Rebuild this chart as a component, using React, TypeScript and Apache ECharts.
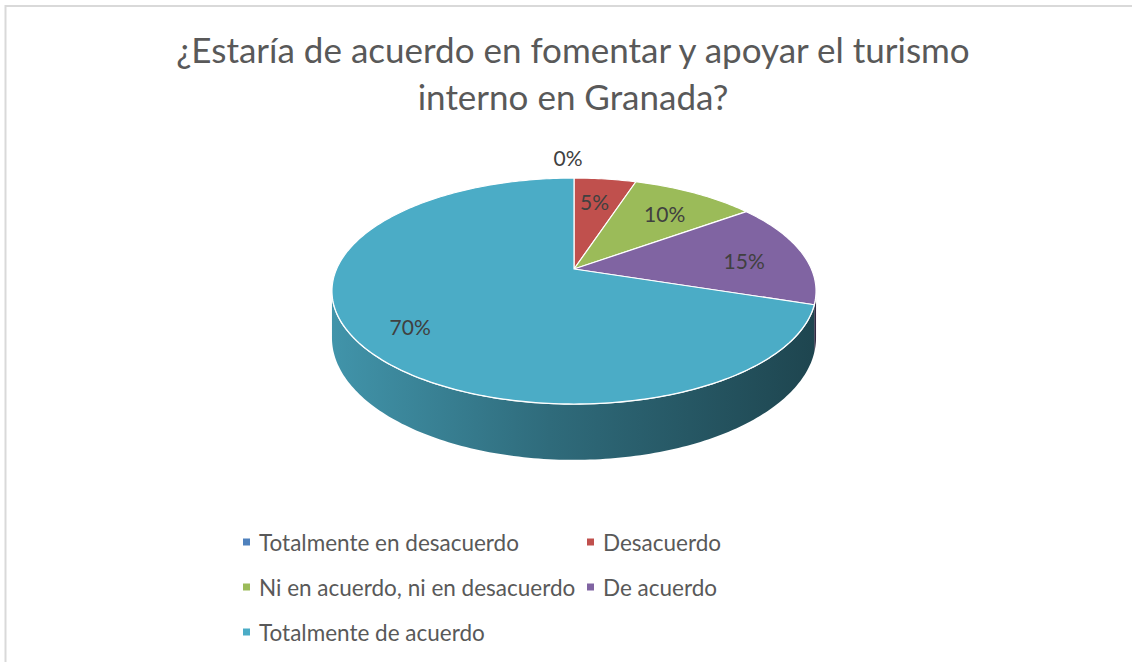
import React, { useEffect, useRef } from 'react';
import * as echarts from 'echarts';

const CATEGORIES = [
  'Totalmente en desacuerdo',
  'Desacuerdo',
  'Ni en acuerdo, ni en desacuerdo',
  'De acuerdo',
  'Totalmente de acuerdo',
];
const VALUES = [0, 5, 10, 15, 70];
const COLORS = ['#4F81BD', '#C0504D', '#9BBB59', '#8064A2', '#4BACC6'];
const TITLE_LINES = ['¿Estaría de acuerdo en fomentar y apoyar el turismo', 'interno en Granada?'];

const FONT = 'Lato, "Open Sans", sans-serif';

// 3D pie geometry (perspective projection of a tilted disc)
const CX = 574;
const CY = 269;
const RX = 237.4;
const RY = 108.7;
const K = 0.1947;
const DEPTH = 45;
const LABEL_R = 0.76;

function proj(f: number, t: number) {
  const u = f * Math.sin(t);
  const v = -f * Math.cos(t);
  const w = 1 - K * v;
  return { x: CX + (RX * u) / w, y: CY + (RY * v) / w, w };
}

function shade(hex: string, f: number) {
  const n = parseInt(hex.slice(1), 16);
  const r = Math.round(((n >> 16) & 255) * f);
  const g = Math.round(((n >> 8) & 255) * f);
  const b = Math.round((n & 255) * f);
  return `rgb(${r},${g},${b})`;
}

export default function App() {
  const ref = useRef<HTMLDivElement>(null);
  useEffect(() => {
    if (!ref.current) return;
    const chart = echarts.init(ref.current, null, { renderer: 'svg' });
    const total = VALUES.reduce((a, b) => a + b, 0);

    const renderItem = (params: any, api: any) => {
      const i = params.seriesIndex;
      const val = api.value(0) as number;
      const color = COLORS[i];
      const before = VALUES.slice(0, i).reduce((a, b) => a + b, 0);
      const start = (before / total) * Math.PI * 2;
      const end = start + (val / total) * Math.PI * 2;
      const children: any[] = [];
      if (end > start) {
        const n = Math.max(2, Math.ceil((end - start) / (Math.PI / 180)));
        const pts: number[][] = [[CX, CY]];
        for (let j = 0; j <= n; j++) {
          const p = proj(1, start + ((end - start) * j) / n);
          pts.push([p.x, p.y]);
        }
        children.push({
          type: 'polygon',
          z2: 10,
          shape: { points: pts },
          style: { fill: color, stroke: '#ffffff', lineWidth: 1.2, lineJoin: 'round' },
        });
        const vis0 = Math.acos(-K);
        const vis1 = Math.PI * 2 - vis0;
        const a = Math.max(start, vis0);
        const b = Math.min(end, vis1);
        if (b > a) {
          const m = Math.max(2, Math.ceil((b - a) / (Math.PI / 180)));
          const topPts: number[][] = [];
          const botPts: number[][] = [];
          for (let j = 0; j <= m; j++) {
            const p = proj(1, a + ((b - a) * j) / m);
            topPts.push([p.x, p.y]);
            botPts.push([p.x, p.y + DEPTH / p.w]);
          }
          children.push({
            type: 'polygon',
            z2: 1,
            shape: { points: topPts.concat(botPts.reverse()) },
            style: {
              fill: {
                type: 'linear',
                x: CX - RX * 1.02,
                y: 0,
                x2: CX + RX * 1.02,
                y2: 0,
                global: true,
                colorStops: [
                  { offset: 0, color: shade(color, 0.86) },
                  { offset: 0.45, color: shade(color, 0.62) },
                  { offset: 1, color: shade(color, 0.4) },
                ],
              },
              stroke: null,
            },
          });
          children.push({
            type: 'polyline',
            z2: 5,
            shape: { points: topPts },
            style: { fill: null, stroke: '#ffffff', lineWidth: 1.5 },
          });
        }
      }
      const mid = (start + end) / 2;
      const pct = Math.round((val / total) * 100) + '%';
      let lx: number;
      let ly: number;
      if (val === 0) {
        const p = proj(1, mid);
        lx = p.x - 6;
        ly = p.y - 21;
      } else {
        const p = proj(LABEL_R, mid);
        lx = p.x - 4;
        ly = p.y + 4;
      }
      children.push({
        type: 'text',
        z2: 20,
        style: {
          text: pct,
          x: lx,
          y: ly,
          fill: '#404040',
          fontSize: 21,
          fontFamily: FONT,
          align: 'center',
          verticalAlign: 'middle',
        },
      });
      return { type: 'group', children };
    };

    const legendBase = {
      orient: 'vertical',
      icon: 'rect',
      itemWidth: 7,
      itemHeight: 7,
      itemGap: 19,
      padding: 0,
      selectedMode: false,
      textStyle: { fontSize: 22.5, color: '#595959', fontFamily: FONT, lineHeight: 26, padding: [0, 0, 0, 4] },
    };

    chart.setOption({
      animation: false,
      backgroundColor: '#ffffff',
      title: {
        text: TITLE_LINES.join('\n'),
        left: 573,
        textAlign: 'center',
        top: 25,
        padding: 0,
        textStyle: { fontSize: 35, fontWeight: 'normal', color: '#595959', fontFamily: FONT, lineHeight: 47 },
      },
      legend: [
        { ...legendBase, data: [CATEGORIES[0], CATEGORIES[2], CATEGORIES[4]], left: 243, top: 529 },
        { ...legendBase, data: [CATEGORIES[1], CATEGORIES[3]], left: 587, top: 529 },
      ],
      graphic: [
        {
          type: 'rect',
          shape: { x: 5.5, y: 6, width: 1200, height: 700 },
          style: { fill: 'none', stroke: '#d9d9d9', lineWidth: 2 },
          silent: true,
        },
      ],
      series: CATEGORIES.map((name, i) => ({
        type: 'custom',
        name,
        coordinateSystem: 'none',
        itemStyle: { color: COLORS[i] },
        renderItem,
        data: [[VALUES[i]]],
      })),
    });
    return () => chart.dispose();
  }, []);
  return <div ref={ref} style={{ position: 'fixed', left: 0, top: 0, width: 1132, height: 662 }} />;
}
